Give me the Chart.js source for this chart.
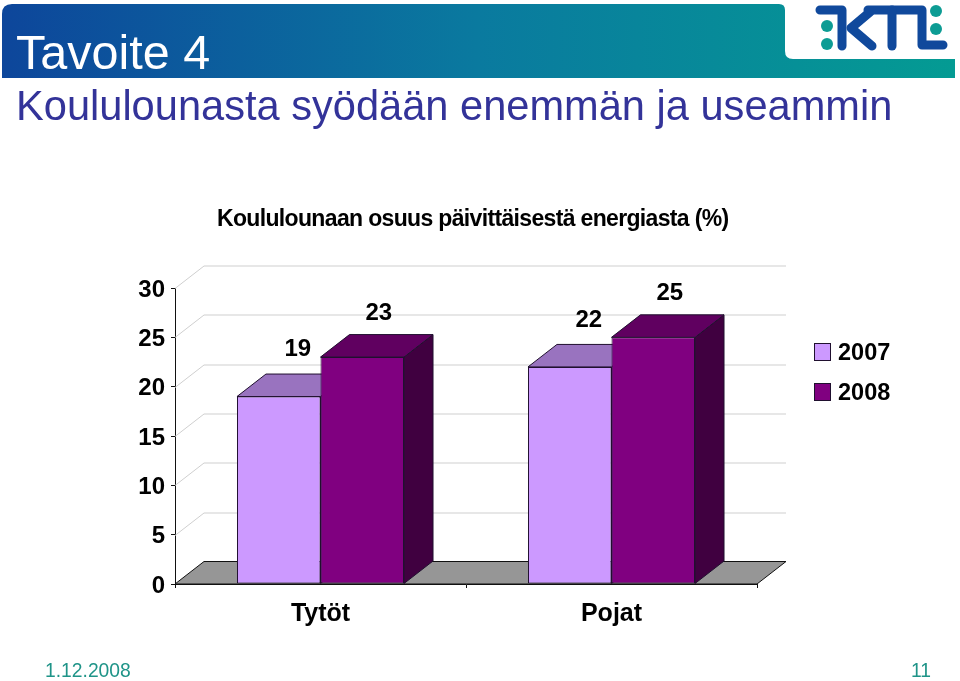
<!DOCTYPE html>
<html lang="fi">
<head>
<meta charset="utf-8">
<title>Tavoite 4</title>
<script src="https://cdn.jsdelivr.net/npm/chart.js@4"></script>
<style>
    html, body { margin: 0; padding: 0; background: #fff; overflow: hidden; }
    body { width: 960px; height: 681px; position: relative; font-family: "Liberation Sans", Arial, sans-serif; }
    #barChart, #header { position: absolute; left: 0; top: 0; }
    .txt { position: absolute; white-space: nowrap; }
    #slide-title { left: 16px; top: 25.5px; font-size: 48.5px; line-height: 52px; color: #fff; }
    #slide-sub { left: 16px; top: 81.5px; font-size: 41.6px; line-height: 48px; color: #333399; }
    #date { left: 45px; top: 660px; font-size: 19.3px; line-height: 22px; color: #1f9488; }
    #page { left: 911px; top: 660px; font-size: 19.3px; line-height: 22px; color: #1f9488; }
    #legend { position: absolute; left: 814px; top: 343px; }
    .legend-item { position: absolute; left: 0; width: 80px; height: 18px; }
    .legend-box { position: absolute; left: 0; top: 0; width: 15px; height: 16px; border: 1px solid #20102f; }
    .legend-text { position: absolute; left: 24px; top: -5px; font-size: 23.5px; line-height: 28px; font-weight: bold; color: #000; }
</style>
</head>
<body>
<canvas id="barChart" width="960" height="681"></canvas>
<svg id="header" width="960" height="85">
    <defs>
        <linearGradient id="band" gradientUnits="userSpaceOnUse" x1="2" y1="0" x2="955" y2="0">
            <stop offset="0" stop-color="#0d469b"/>
            <stop offset="0.5" stop-color="#0a7a9f"/>
            <stop offset="1" stop-color="#049b93"/>
        </linearGradient>
    </defs>
    <path d="M2,14 Q2,4 12,4 H779 Q785,4 785,10 V51 Q785,59 793,59 H955 V78 H2 Z" fill="url(#band)"/>
    <!-- KTL logo -->
    <g fill="none" stroke="#10499c" stroke-width="9" stroke-linecap="round" stroke-linejoin="round">
        <path d="M820,10 H842 V46"/>
        <path d="M870,12 L851,28 L872,46"/>
        <path d="M868,10 H922 V45 H943"/>
        <path d="M892,10 V46"/>
    </g>
    <g fill="#0d9c94">
        <circle cx="827" cy="26" r="6"/>
        <circle cx="827" cy="44" r="6"/>
        <circle cx="936" cy="11" r="6"/>
        <circle cx="936" cy="29" r="6"/>
    </g>
</svg>
<div class="txt" id="slide-title">Tavoite 4</div>
<div class="txt" id="slide-sub">Koululounasta syödään enemmän ja useammin</div>
<div id="legend"></div>
<div class="txt" id="date">1.12.2008</div>
<div class="txt" id="page">11</div>

<script>
// data
const categories = ['Tytöt', 'Pojat'];
const seriesNames = ['2007', '2008'];
const values2007 = [19, 22];
const values2008 = [23, 25];
const yTicks = [0, 5, 10, 15, 20, 25, 30];
const chartTitle = 'Koululounaan osuus päivittäisestä energiasta (%)';

// colours: front, top face, side face
const colors2007 = ['#cc99ff', '#9973bf', '#66407f'];
const colors2008 = ['#800080', '#600060', '#400040'];
const edge = '#20102f';

// 3d depth of the old office style chart
const depthX = 29;
const depthY = 22.5;

function poly(ctx, pts, fill, stroke) {
    ctx.beginPath();
    ctx.moveTo(pts[0][0], pts[0][1]);
    pts.slice(1).forEach(p => ctx.lineTo(p[0], p[1]));
    ctx.closePath();
    if (fill) {
        ctx.fillStyle = fill;
        ctx.fill();
    }
    if (stroke) {
        ctx.strokeStyle = stroke;
        ctx.lineWidth = 1;
        ctx.stroke();
    }
}

// walls, floor and the top and side faces of the bars
const threeD = {
    id: 'threeD',
    afterLayout(chart) {
        // y labels sit a little under their tick in the original
        const yScale = chart.scales.y;
        yScale.getLabelItems(chart.chartArea).forEach(item => {
            item.options.translation[1] += 2;
        });
    },
    beforeDatasetsDraw(chart) {
        const ctx = chart.ctx;
        const y = chart.scales.y;
        const left = chart.chartArea.left;
        const right = chart.chartArea.right;
        ctx.save();

        yTicks.slice(1).forEach(t => {
            const py = Math.round(y.getPixelForValue(t)) + 0.5;
            ctx.beginPath();
            ctx.moveTo(left, py);
            ctx.lineTo(left + depthX, py - depthY);
            ctx.lineTo(right + depthX, py - depthY);
            ctx.strokeStyle = '#cfcfcf';
            ctx.lineWidth = 1;
            ctx.stroke();
        });

        const y0 = y.getPixelForValue(0);
        poly(ctx, [[left, y0], [right, y0], [right + depthX, y0 - depthY], [left + depthX, y0 - depthY]], '#969696', '#111');

        chart.data.datasets.forEach((ds, i) => {
            chart.getDatasetMeta(i).data.forEach(bar => {
                const x1 = bar.x - bar.width / 2;
                const x2 = bar.x + bar.width / 2;
                const top = bar.y;
                poly(ctx, [[x2, bar.base], [x2 + depthX, bar.base - depthY], [x2 + depthX, top - depthY], [x2, top]], ds.sideColor, edge);
                poly(ctx, [[x1, top], [x1 + depthX, top - depthY], [x2 + depthX, top - depthY], [x2, top]], ds.topColor, edge);
            });
        });
        ctx.restore();
    },
    afterDatasetsDraw(chart) {
        // value labels float above the 3d top
        const ctx = chart.ctx;
        ctx.save();
        ctx.font = 'bold 24px "Liberation Sans"';
        ctx.fillStyle = '#000';
        ctx.textAlign = 'center';
        ctx.textBaseline = 'middle';
        chart.data.datasets.forEach((ds, i) => {
            chart.getDatasetMeta(i).data.forEach((bar, j) => {
                ctx.fillText(ds.data[j], bar.x + ds.labelDx, bar.y + ds.labelDy);
            });
        });

        // chart title, squeezed like in the original
        ctx.font = 'bold 23px "Liberation Sans"';
        ctx.textAlign = 'left';
        ctx.textBaseline = 'alphabetic';
        ctx.letterSpacing = '-0.66px';
        ctx.fillText(chartTitle, 217, 226);
        ctx.restore();
    }
};

const ctx = document.getElementById('barChart').getContext('2d');
const barChart = new Chart(ctx, {
    type: 'bar',
    data: {
        labels: categories,
        datasets: [
            { label: seriesNames[0], data: values2007, backgroundColor: colors2007[0], topColor: colors2007[1], sideColor: colors2007[2], labelDx: 19, labelDy: -47 },
            { label: seriesNames[1], data: values2008, backgroundColor: colors2008[0], topColor: colors2008[1], sideColor: colors2008[2], labelDx: 16.5, labelDy: -44 }
        ]
    },
    options: {
        responsive: false,
        animation: false,
        layout: { padding: { left: 0, right: 203, top: 288, bottom: 0 } },
        datasets: {
            bar: {
                categoryPercentage: 0.574,
                barPercentage: 1,
                borderColor: edge,
                borderWidth: 1,
                borderSkipped: false
            }
        },
        plugins: {
            legend: { display: false },
            tooltip: { enabled: false },
            title: { display: false }
        },
        scales: {
            x: {
                afterFit(scale) { scale.height = 97; },
                grid: { drawOnChartArea: false, tickLength: 4, color: '#111' },
                border: { color: '#111' },
                ticks: { color: '#000', padding: 11, font: { family: '"Liberation Sans"', size: 25, weight: 'bold' } }
            },
            y: {
                min: 0,
                max: 30,
                afterFit(scale) { scale.width = 175; },
                afterBuildTicks(scale) { scale.ticks = yTicks.map(v => ({ value: v })); },
                grid: { drawOnChartArea: false, tickLength: 4, color: '#111' },
                border: { color: '#111' },
                ticks: { color: '#000', padding: 6, font: { family: '"Liberation Sans"', size: 24, weight: 'bold' } }
            }
        }
    },
    plugins: [threeD]
});

// legend in the same place as the original, from the chart's own datasets
const legendEl = document.getElementById('legend');
barChart.data.datasets.forEach((ds, i) => {
    const item = document.createElement('div');
    item.className = 'legend-item';
    item.style.top = (i * 39.5) + 'px';
    item.innerHTML = '<div class="legend-box" style="background:' + ds.backgroundColor + '"></div><div class="legend-text">' + ds.label + '</div>';
    legendEl.appendChild(item);
});
</script>
</body>
</html>
